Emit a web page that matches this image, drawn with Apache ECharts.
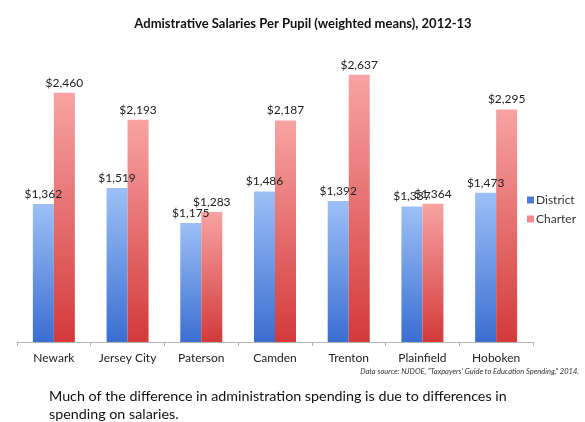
<!DOCTYPE html>
<html>
<head>
<meta charset="utf-8">
<script src="https://cdn.jsdelivr.net/npm/echarts@6/dist/echarts.min.js"></script>
<style>
  html, body { margin: 0; padding: 0; background: #fff; }
  #chart { width: 585px; height: 422px; }
</style>
</head>
<body>
<div id="chart"></div>
<script>
// Administrative salaries per pupil, district vs charter schools, 2012-13
const cities = ['Newark', 'Jersey City', 'Paterson', 'Camden', 'Trenton', 'Plainfield', 'Hoboken'];
const districtValues = [1362, 1519, 1175, 1486, 1392, 1337, 1473];
const charterValues = [2460, 2193, 1283, 2187, 2637, 1364, 2295];
const seriesNames = ['District', 'Charter'];

const FONT = 'Lato, "Open Sans", sans-serif';

function grad(top, bottom) {
  return new echarts.graphic.LinearGradient(0, 0, 0, 1, [
    { offset: 0, color: top },
    { offset: 1, color: bottom }
  ]);
}

const money = p => '$' + p.value.toLocaleString('en-US');

const chart = echarts.init(document.getElementById('chart'));
chart.setOption({
  backgroundColor: '#ffffff',
  animation: false,
  textStyle: { fontFamily: FONT },
  title: {
    text: 'Admistrative Salaries Per Pupil (weighted means), 2012-13',
    left: 298,
    textAlign: 'center',
    top: 12,
    textStyle: { fontFamily: FONT, fontSize: 13, fontWeight: 'bold', color: '#111' }
  },
  legend: {
    orient: 'vertical',
    left: 522,
    top: 189,
    itemWidth: 7,
    itemHeight: 7,
    itemGap: 7,
    icon: 'rect',
    textStyle: { fontFamily: FONT, fontSize: 12, color: '#333', padding: [0, 0, 0, -3] },
    data: [
      { name: seriesNames[0], itemStyle: { color: '#4a7fd8' } },
      { name: seriesNames[1], itemStyle: { color: '#f08a8a' } }
    ]
  },
  grid: { left: 17, right: 52, top: 38, bottom: 80 },
  xAxis: {
    type: 'category',
    data: cities,
    axisLine: { lineStyle: { color: '#b4b4b4', width: 1 } },
    axisTick: { show: true, length: 4, lineStyle: { color: '#b4b4b4' } },
    axisLabel: { interval: 0, fontFamily: FONT, fontSize: 12, color: '#222', margin: 10 }
  },
  yAxis: {
    type: 'value',
    min: 0,
    max: 3000,
    show: false,
    splitLine: { show: false }
  },
  series: [
    {
      name: seriesNames[0],
      type: 'bar',
      data: districtValues,
      barWidth: 21,
      barGap: '0%',
      itemStyle: { color: grad('#9cc0f6', '#3b6ed2') },
      label: {
        show: true, position: 'top', distance: 4, formatter: money,
        fontFamily: FONT, fontSize: 12, color: '#222'
      }
    },
    {
      name: seriesNames[1],
      type: 'bar',
      data: charterValues,
      barWidth: 21,
      barGap: '0%',
      itemStyle: { color: grad('#f8a3a3', '#d33a3a') },
      label: {
        show: true, position: 'top', distance: 4, formatter: money,
        fontFamily: FONT, fontSize: 12, color: '#222'
      }
    }
  ],
  graphic: [
    {
      type: 'text',
      right: 6,
      top: 368,
      style: {
        text: 'Data source: NJDOE, "Taxpayers\' Guide to Education Spending," 2014.',
        font: 'italic 7.5px ' + FONT,
        fill: '#333'
      }
    },
    {
      type: 'text',
      left: 49,
      top: 387,
      style: {
        text: 'Much of the difference in administration spending is due to differences in\nspending on salaries.',
        font: '14.3px ' + FONT,
        lineHeight: 18,
        fill: '#111'
      }
    }
  ]
});
</script>
</body>
</html>
